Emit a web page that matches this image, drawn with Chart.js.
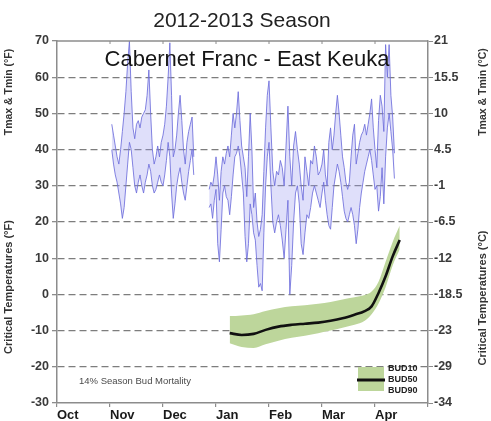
<!DOCTYPE html>
<html>
<head>
<meta charset="utf-8">
<script src="https://cdn.jsdelivr.net/npm/chart.js@4/dist/chart.umd.min.js"></script>
<style>
  html, body { margin: 0; padding: 0; background: #fff; }
  canvas { display: block; }
</style>
</head>
<body>
<canvas id="c" width="491" height="421"></canvas>
<script>
// Season months on the x axis (Oct .. Apr), one unit per month
const seasonMonths = ['Oct', 'Nov', 'Dec', 'Jan', 'Feb', 'Mar', 'Apr'];
const monthDays = [31, 30, 31, 31, 28, 31, 30];

// Right-hand axis labels (°C), listed from the top tick (70 °F) down to -30 °F
const celsiusLabels = ['21', '15.5', '10', '4.5', '-1', '-6.5', '-12', '-18.5', '-23', '-29', '-34'];

// Daily air temperatures (°F), first record block starting 2 Nov 2012
const fallStart = '2012-11-02';
const fallTmax = [47, 44, 41, 38, 36, 40, 45, 50, 56, 64, 70, 56, 46, 43, 47, 48, 46, 49, 50, 51,
                  55, 62, 50, 40, 36, 38, 41, 38, 42, 44, 47, 52, 60, 69.5, 55, 38, 40, 44, 50, 55,
                  48, 40, 36, 42, 45, 47, 49, 38];
const fallTmin = [40, 36, 33, 31, 28, 25, 21, 24, 30, 36, 42, 40, 35, 30, 28, 31, 33, 30, 28, 31,
                  33, 36, 34, 30, 28, 29, 31, 33, 31, 30, 33, 37, 42, 38, 28, 21, 25, 30, 33, 35,
                  31, 28, 26, 30, 34, 37, 40, 33];

// Second record block starting 28 Dec 2012
const winterStart = '2012-12-28';
const winterTmax = [29, 31, 30, 33,
  38, 33, 26, 34, 38, 36, 39, 41, 38, 44, 50, 46, 50, 56, 48, 41, 38, 35, 27, 38, 50, 40, 24, 28, 20, 16, 18, 22, 34, 46, 55,
  59, 46, 34, 30, 34, 33, 37, 35, 30, 41, 52, 38, 30, 41, 45, 40, 36, 30, 26, 38, 34, 30, 37, 36, 41, 38, 33, 34,
  36, 40, 33, 30, 42, 46, 40, 44, 50, 55, 50, 44, 38, 35, 31, 29, 31, 38, 44, 47, 36, 39, 42, 44, 45, 47, 44, 47, 50, 54, 46,
  40, 35, 48, 55, 52, 45, 69, 60, 69, 55, 49, 39];
const winterTmin = [24, 25, 21, 26,
  29, 14, 9, 18, 28, 30, 27, 26, 22, 27, 33, 38, 39, 41, 38, 33, 28, 16, 9, 14, 25, 22, 17, 15, 8, 2, 3, 1, 17, 30, 38,
  42, 30, 20, 17, 20, 22, 19, 15, 10, 18, 26, 0, 8, 20, 28, 30, 25, 14, 11, 17, 22, 21, 24, 28, 30, 28, 26, 24,
  28, 31, 26, 22, 19, 18, 24, 30, 33, 36, 34, 31, 27, 23, 21, 20, 22, 24, 22, 19, 14, 18, 24, 28, 31, 34, 36, 38, 40, 37, 33,
  29, 30, 23, 27, 35, 25, 38, 46, 50, 45, 40, 32];

// Bud critical temperatures (°F): 10 %, 50 % and 90 % bud kill
const budDates = ['2013-01-09', '2013-01-16', '2013-01-23', '2013-01-30', '2013-02-06', '2013-02-13',
                  '2013-02-20', '2013-02-27', '2013-03-06', '2013-03-13', '2013-03-20', '2013-03-26',
                  '2013-03-30', '2013-04-03', '2013-04-07', '2013-04-11', '2013-04-15'];
const bud10 = [-6.0, -5.8, -5.5, -4.6, -3.8, -3.3, -3.0, -2.6, -2.1, -1.4, -0.8, -0.2, 0.8, 3.5, 9.0, 14.5, 19.0];
const bud50 = [-10.7, -11.2, -10.9, -9.8, -8.9, -8.4, -8.1, -7.8, -7.3, -6.6, -5.6, -4.6, -3.3, 0.4, 5.0, 10.5, 15.0];
const bud90 = [-13.5, -14.5, -14.8, -13.8, -12.8, -12.0, -11.4, -10.7, -10.0, -9.2, -8.4, -7.3, -5.5, -2.5, 2.0, 8.0, 12.5];

const mortalityNote = '14% Season Bud Mortality';

// Colours
const tempLine = 'rgba(110,110,220,0.85)';
const tempFill = 'rgba(155,155,238,0.32)';
const budFill = '#bdd69b';
const budLine = '#111111';
const frameColor = '#8c8c8c';

// Position of a calendar date on the month axis (Oct 1 = 0)
function monthPos(year, month, day) {
  const idx = month >= 10 ? month - 10 : month + 2;
  return idx + (day - 1) / monthDays[idx];
}
function posFromString(s) {
  const [y, m, d] = s.split('-').map(Number);
  return monthPos(y, m, d);
}
function dailySeries(start, values) {
  const [y, m, d] = start.split('-').map(Number);
  const t0 = Date.UTC(y, m - 1, d);
  return values.map((v, i) => {
    const dt = new Date(t0 + i * 86400000);
    return { x: monthPos(dt.getUTCFullYear(), dt.getUTCMonth() + 1, dt.getUTCDate()), y: v };
  });
}
function datedSeries(dates, values) {
  return dates.map((s, i) => ({ x: posFromString(s), y: values[i] }));
}

const tempStyle = {
  borderColor: tempLine, borderWidth: 1, pointRadius: 0, tension: 0,
  backgroundColor: tempFill
};

// Frame, title, in-plot text, legend and the split axis titles
const decorations = {
  id: 'decorations',
  afterDatasetsDraw(chart) {
    const { ctx, chartArea: a, scales } = chart;
    ctx.save();
    // top frame edge with inward month ticks
    ctx.strokeStyle = frameColor;
    ctx.lineWidth = 1.5;
    ctx.beginPath();
    ctx.moveTo(a.left, a.top);
    ctx.lineTo(a.right, a.top);
    ctx.stroke();
    ctx.lineWidth = 1;
    for (let i = 1; i < 7; i++) {
      const px = scales.x.getPixelForValue(i);
      ctx.beginPath();
      ctx.moveTo(px, a.top);
      ctx.lineTo(px, a.top + 3);
      ctx.stroke();
    }

    // variety / site label inside the plot
    ctx.fillStyle = '#151515';
    ctx.font = '22px "Liberation Sans", Arial, sans-serif';
    ctx.textAlign = 'center';
    ctx.textBaseline = 'middle';
    ctx.fillText('Cabernet Franc - East Keuka', 247, 60);

    // season mortality note
    ctx.fillStyle = '#4a4a4a';
    ctx.font = '9.5px "Liberation Sans", Arial, sans-serif';
    ctx.textAlign = 'left';
    ctx.fillText(mortalityNote, 79, 381);

    // legend for the bud hardiness band
    ctx.fillStyle = budFill;
    ctx.fillRect(358, 367, 26, 24);
    ctx.strokeStyle = budLine;
    ctx.lineWidth = 3;
    ctx.beginPath();
    ctx.moveTo(357, 380);
    ctx.lineTo(385, 380);
    ctx.stroke();
    ctx.fillStyle = '#222';
    ctx.font = 'bold 9px "Liberation Sans", Arial, sans-serif';
    ctx.fillText('BUD10', 388, 369);
    ctx.fillText('BUD50', 388, 380);
    ctx.fillText('BUD90', 388, 391);
    ctx.restore();
  },
  afterDraw(chart) {
    const { ctx } = chart;
    ctx.save();
    ctx.fillStyle = '#222';
    ctx.font = '21px "Liberation Sans", Arial, sans-serif';
    ctx.textAlign = 'center';
    ctx.textBaseline = 'middle';
    ctx.fillText('2012-2013 Season', 242, 21);

    const vText = (txt, x, y, size) => {
      ctx.save();
      ctx.translate(x, y);
      ctx.rotate(-Math.PI / 2);
      ctx.font = 'bold ' + size + 'px "Liberation Sans", Arial, sans-serif';
      ctx.fillStyle = '#333';
      ctx.textAlign = 'center';
      ctx.textBaseline = 'middle';
      ctx.fillText(txt, 0, 0);
      ctx.restore();
    };
    vText('Tmax & Tmin (\u00B0F)', 9, 92, 10.5);
    vText('Critical Temperatures (\u00B0F)', 9, 287, 11);
    vText('Tmax & Tmin (\u00B0C)', 483, 92, 10.5);
    vText('Critical Temperatures (\u00B0C)', 483, 298, 11);
    ctx.restore();
  }
};

new Chart(document.getElementById('c'), {
  type: 'line',
  data: {
    datasets: [
      { ...tempStyle, label: 'Tmax', data: dailySeries(fallStart, fallTmax), fill: false, order: 1 },
      { ...tempStyle, label: 'Tmin', data: dailySeries(fallStart, fallTmin), fill: '-1', order: 1 },
      { ...tempStyle, label: 'Tmax', data: dailySeries(winterStart, winterTmax), fill: false, order: 1 },
      { ...tempStyle, label: 'Tmin', data: dailySeries(winterStart, winterTmin), fill: '-1', order: 1 },
      { label: 'BUD10', data: datedSeries(budDates, bud10), borderWidth: 0, borderColor: budFill,
        pointRadius: 0, cubicInterpolationMode: 'monotone', fill: false, order: 2 },
      { label: 'BUD90', data: datedSeries(budDates, bud90), borderWidth: 0, borderColor: budFill,
        backgroundColor: budFill, pointRadius: 0, cubicInterpolationMode: 'monotone', fill: '-1', order: 2 },
      // drawn last so the median line sits on top of the band
      { label: 'BUD50', data: datedSeries(budDates, bud50), borderWidth: 2.6, borderColor: budLine,
        pointRadius: 0, cubicInterpolationMode: 'monotone', fill: false, order: 0 }
    ]
  },
  options: {
    responsive: false,
    animation: false,
    devicePixelRatio: 1,
    layout: { padding: { top: 41, left: 0, right: 0, bottom: 0 } },
    plugins: {
      legend: { display: false },
      tooltip: { enabled: false },
      title: { display: false }
    },
    scales: {
      x: {
        type: 'linear', min: 0, max: 7,
        afterFit(s) { s.height = 18; },
        afterBuildTicks(s) { s.ticks = [0, 1, 2, 3, 4, 5, 6, 7].map(v => ({ value: v })); },
        ticks: {
          autoSkip: false, maxRotation: 0, align: 'start', padding: 1,
          color: '#1a1a1a',
          font: { family: '"Liberation Sans", Arial, sans-serif', size: 13, weight: 'bold' },
          callback: (v) => seasonMonths[v] ?? ''
        },
        grid: { drawOnChartArea: false, tickLength: 4, color: frameColor, lineWidth: 1.2 },
        border: { color: frameColor, width: 1.5 }
      },
      y: {
        position: 'left', min: -30, max: 70,
        afterFit(s) { s.width = 57; },
        ticks: {
          stepSize: 10, padding: 3, color: '#3a3a3a',
          font: { family: '"Liberation Sans", Arial, sans-serif', size: 12.5, weight: 'bold' }
        },
        grid: {
          color: (c) => (c.tick && (c.tick.value === 70 || c.tick.value === -30)) ? 'rgba(0,0,0,0)' : '#7d7d7d',
          tickColor: frameColor, tickLength: 5, lineWidth: 1.3, tickBorderDash: []
        },
        border: { color: frameColor, width: 1.5, dash: [7, 4] }
      },
      y2: {
        position: 'right', min: -30, max: 70,
        afterFit(s) { s.width = 63; },
        ticks: {
          stepSize: 10, padding: 1, color: '#3a3a3a',
          font: { family: '"Liberation Sans", Arial, sans-serif', size: 12.5, weight: 'bold' },
          callback: (v) => celsiusLabels[Math.round((70 - v) / 10)]
        },
        grid: { drawOnChartArea: false, tickColor: frameColor, tickLength: 5 },
        border: { color: frameColor, width: 1.5 }
      }
    }
  },
  plugins: [decorations]
});
</script>
</body>
</html>
